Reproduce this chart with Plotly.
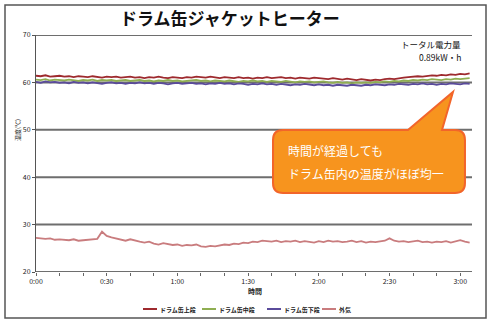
import plotly.graph_objects as go

# ---- data (minutes from start, temperatures in °C) ----
minutes = list(range(0, 185, 2))
tick_vals = [0, 30, 60, 90, 120, 150, 180]
tick_text = ["0:00", "0:30", "1:00", "1:30", "2:00", "2:30", "3:00"]
grid_vals = [20, 30, 40, 50, 60, 70]

upper = [61.4,61.3,61.5,61.2,61.3,61.4,61.2,61.3,61.1,61.3,
         61.2,61.1,61.3,61.2,61.0,61.2,61.1,61.2,61.0,61.1,
         61.2,61.0,61.1,60.9,61.1,61.0,61.2,61.0,60.9,61.1,
         61.0,60.9,61.1,61.0,61.2,61.1,61.0,61.2,61.1,60.9,
         61.1,61.0,60.9,61.1,60.9,61.0,60.8,61.0,60.9,61.1,
         60.9,61.0,61.1,60.9,61.0,60.8,61.0,60.9,60.8,61.0,
         60.9,60.8,60.7,60.9,60.7,60.6,60.8,60.6,60.5,60.7,
         60.5,60.4,60.6,60.5,60.7,60.8,60.7,60.9,61.0,61.1,
         61.2,61.3,61.2,61.4,61.5,61.4,61.6,61.5,61.7,61.6,
         61.8,61.7,61.9]
middle = [60.6,60.5,60.7,60.4,60.6,60.5,60.4,60.6,60.5,60.3,
          60.5,60.4,60.6,60.3,60.5,60.4,60.5,60.3,60.4,60.5,
          60.3,60.4,60.5,60.3,60.4,60.2,60.4,60.3,60.5,60.3,
          60.4,60.2,60.3,60.4,60.5,60.3,60.4,60.2,60.4,60.3,
          60.2,60.4,60.3,60.1,60.3,60.2,60.4,60.2,60.3,60.1,
          60.3,60.2,60.1,60.3,60.2,60.0,60.2,60.1,60.2,60.0,
          60.1,60.2,60.0,59.9,60.1,59.9,60.0,59.8,60.0,59.9,
          60.0,59.9,60.1,60.0,60.2,60.1,60.3,60.2,60.4,60.3,
          60.5,60.4,60.6,60.5,60.7,60.6,60.5,60.7,60.6,60.8,
          60.7,60.8,60.9]
lower = [60.1,59.9,60.2,60.0,60.1,59.9,60.0,59.8,60.1,59.9,
         60.0,59.8,60.0,59.9,59.7,59.9,60.0,59.8,59.9,59.7,
         59.9,59.8,60.0,59.8,59.9,59.7,59.9,59.8,59.6,59.8,
         59.9,59.7,59.8,59.9,59.7,59.8,59.6,59.8,59.7,59.9,
         59.7,59.8,59.6,59.8,59.7,59.5,59.7,59.6,59.8,59.6,
         59.7,59.5,59.7,59.6,59.4,59.6,59.5,59.7,59.5,59.4,
         59.6,59.4,59.5,59.3,59.5,59.4,59.3,59.5,59.4,59.3,
         59.5,59.4,59.6,59.5,59.4,59.6,59.5,59.7,59.6,59.5,
         59.7,59.6,59.8,59.6,59.7,59.5,59.7,59.6,59.8,59.7,
         59.6,59.8,59.7]
outside = [27.2,27.1,27.0,27.1,26.8,26.9,26.8,26.7,26.9,26.6,
           26.7,26.8,26.9,27.0,28.5,27.6,27.3,27.1,26.8,26.6,
           26.9,26.6,26.4,26.2,26.4,26.0,25.8,26.1,25.9,25.7,
           25.8,25.5,25.7,25.6,25.8,25.4,25.3,25.5,25.4,25.6,
           25.8,25.7,26.0,25.9,26.2,26.1,26.4,26.3,26.6,26.5,
           26.4,26.6,26.3,26.5,26.4,26.6,26.3,26.5,26.4,26.2,
           26.5,26.3,26.6,26.4,26.5,26.3,26.4,26.6,26.3,26.5,
           26.2,26.4,26.3,26.5,26.6,27.1,26.6,26.4,26.5,26.3,
           26.4,26.6,26.3,26.4,26.2,26.4,26.3,26.5,26.2,26.4,
           26.7,26.4,26.2]

series_names = ["ドラム缶上段", "ドラム缶中段", "ドラム缶下段", "外気"]
series_values = [upper, middle, lower, outside]
series_colors = ["#9e2a2e", "#8fae52", "#5a4b9b", "#c97c7e"]

FONT = "Noto Sans CJK JP"
W, H = 494, 323
L, R, T, B = 36, 22, 35, 51

def px(x):
    return (x - L) / (W - L - R)

def py(y):
    return (H - B - y) / (H - T - B)

fig = go.Figure()
for name, vals, col in zip(series_names, series_values, series_colors):
    fig.add_trace(go.Scatter(x=minutes, y=vals, name=name, mode="lines",
                             line=dict(color=col, width=1.8), showlegend=False))

# callout path (rounded rectangle + pointer)
x0, x1, y0, y1, r = 273, 465, 130, 193, 10
bx0, bx1, tipx, tipy = 408, 442, 453, 92
pts = []
def P(cmd, *xy):
    s = cmd
    for i in range(0, len(xy), 2):
        s += f" {px(xy[i]):.4f},{py(xy[i+1]):.4f}"
    pts.append(s)
P("M", x0 + r, y0)
P("L", bx0, y0)
P("L", tipx, tipy)
P("L", bx1, y0)
P("L", x1 - r, y0)
P("Q", x1, y0, x1, y0 + r)
P("L", x1, y1 - r)
P("Q", x1, y1, x1 - r, y1)
P("L", x0 + r, y1)
P("Q", x0, y1, x0, y1 - r)
P("L", x0, y0 + r)
P("Q", x0, y0, x0 + r, y0)
path = " ".join(pts) + " Z"

shapes = [
    dict(type="rect", xref="paper", yref="paper",
         x0=px(5), x1=px(486), y0=py(318), y1=py(5),
         line=dict(color="#555555", width=1.5), fillcolor="rgba(0,0,0,0)", layer="below"),
]
for g in grid_vals:
    shapes.append(dict(type="line", xref="paper", yref="y", x0=0, x1=1, y0=g, y1=g,
                       line=dict(color="#6e6e6e", width=2), layer="below"))
shapes.append(dict(type="path", xref="paper", yref="paper", path=path,
                   fillcolor="#f7941e", line=dict(color="#f2652a", width=2)))

annotations = [
    dict(text="<b>ドラム缶ジャケットヒーター</b>", xref="paper", yref="paper",
         x=px(230), y=py(18), yanchor="middle", showarrow=False,
         font=dict(family=FONT, size=17, color="#111")),
    dict(text="トータル電力量", xref="paper", yref="paper", x=px(463), y=py(44),
         xanchor="right", yanchor="middle", showarrow=False, font=dict(family=FONT, size=8.5, color="#111")),
    dict(text="0.89kW・h", xref="paper", yref="paper", x=px(463), y=py(57),
         xanchor="right", yanchor="middle", showarrow=False, font=dict(family=FONT, size=8.5, color="#111")),
    dict(text="温度(℃)", xref="paper", yref="paper", x=px(17), y=py(130),
         xanchor="center", yanchor="middle",
         textangle=-90, showarrow=False, font=dict(family=FONT, size=6, color="#222")),
    dict(text="<b>時間</b>", xref="paper", yref="paper", x=px(255), y=py(291),
         yanchor="middle", showarrow=False, font=dict(family=FONT, size=7, color="#222")),
    dict(text="時間が経過しても", xref="paper", yref="paper", x=px(286), y=py(150),
         xanchor="left", yanchor="middle", showarrow=False, font=dict(family=FONT, size=12, color="white")),
    dict(text="ドラム缶内の温度がほぼ均一", xref="paper", yref="paper", x=px(286), y=py(173),
         xanchor="left", yanchor="middle", showarrow=False, font=dict(family=FONT, size=12, color="white")),
]

# manual legend
legend_x = [143, 202, 267, 322]
legend_y = 309
for name, col, lx in zip(series_names, series_colors, legend_x):
    shapes.append(dict(type="line", xref="paper", yref="paper",
                       x0=px(lx), x1=px(lx + 14), y0=py(legend_y), y1=py(legend_y),
                       line=dict(color=col, width=2)))
    annotations.append(dict(text="<b>" + name + "</b>", xref="paper", yref="paper",
                            x=px(lx + 14.5), y=py(legend_y), xanchor="left", yanchor="middle",
                            showarrow=False, font=dict(family=FONT, size=6, color="#222")))

fig.update_layout(
    width=W, height=H, margin=dict(l=L, r=R, t=T, b=B, autoexpand=False),
    paper_bgcolor="white", plot_bgcolor="white",
    font=dict(family=FONT, size=7, color="#222"),
    showlegend=False,
    shapes=shapes, annotations=annotations,
)
fig.update_xaxes(range=[0, 185], tickvals=tick_vals, ticktext=tick_text,
                 ticks="outside", ticklen=3, tickcolor="#666", showgrid=False,
                 zeroline=False, showline=False,
                 minor=dict(dtick=10, tick0=0, ticks="outside", ticklen=3, tickcolor="#666", showgrid=False),
                 tickfont=dict(family=FONT, size=7, color="#222"))
fig.update_yaxes(range=[20, 70], dtick=10, ticks="outside", ticklen=3, tickcolor="#555",
                 showgrid=False,
                 zeroline=False, showline=True, linecolor="#555", linewidth=1,
                 tickfont=dict(family=FONT, size=7, color="#222"))

fig.write_html("out.html")
